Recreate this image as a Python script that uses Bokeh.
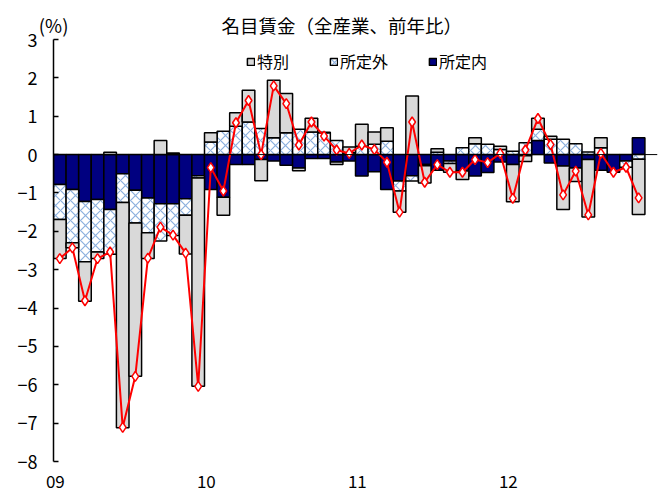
import numpy as np
from bokeh.plotting import figure
from bokeh.models import (FixedTicker, Span, Legend, LegendItem, LinearAxis,
                          ColumnDataSource, Range1d)
from bokeh.embed import file_html
from bokeh.resources import INLINE

# Monthly data, Jan 2009 .. Nov 2012 (year-on-year % change, contributions)
scheduled = [  # 所定内
    -0.78, -0.91, -1.22, -1.17, -1.43, -0.50, -0.93, -1.13, -1.28, -1.28, -1.15, -0.55,
    -0.91, -1.11, -0.26, -0.26, -0.13, -0.17, -0.28, -0.35, -0.10, -0.10, -0.19, -0.17,
    -0.56, -0.45, -0.91, -0.69, -0.55, -0.26, -0.41, -0.17, -0.43, -0.56, -0.47, -0.19,
    -0.26, -0.03, 0.37, -0.22, -0.30, -0.35, -0.13, -0.41, -0.46, -0.17, 0.44]
overtime = [  # 所定外
    -0.91, -1.39, -1.57, -1.37, -1.17, -0.75, -0.85, -0.91, -0.97, -0.83, -0.43, -0.06,
    0.33, 0.61, 0.74, 0.85, 0.68, 0.44, 0.57, 0.66, 0.59, 0.57, 0.37, 0.05,
    0.22, 0.27, 0.35, -0.26, -0.14, -0.03, 0.06, -0.06, 0.18, 0.28, 0.27, 0.13,
    0.09, 0.31, 0.29, 0.40, 0.40, 0.28, 0.07, 0.18, 0.00, -0.16, -0.12]
special = [  # 特別
    -1.02, -0.13, -1.03, -0.17, 0.06, -5.87, -4.00, -0.67, 0.37, 0.04, -1.01, -5.43,
    0.24, -0.47, 0.35, 0.83, -0.55, 1.50, 1.02, -0.07, 0.36, 0.01, -0.07, 0.15,
    0.57, 0.32, 0.35, -0.55, 1.53, -0.45, 0.09, -0.23, -0.22, 0.16, 0.00, 0.09,
    -0.97, -0.15, 0.29, 0.08, -1.13, -0.35, -1.50, 0.26, 0.00, 0.00, -1.44]
total = [  # 名目賃金
    -2.71, -2.43, -3.81, -2.71, -2.54, -7.11, -5.78, -2.70, -1.89, -2.10, -2.57, -6.04,
    -0.34, -0.95, 0.83, 1.41, 0.00, 1.79, 1.33, 0.25, 0.85, 0.48, 0.12, 0.03,
    0.25, 0.13, -0.20, -1.50, 0.85, -0.72, -0.26, -0.46, -0.46, -0.13, -0.21, 0.03,
    -1.14, 0.12, 0.94, 0.26, -1.05, -0.43, -1.57, 0.03, -0.46, -0.33, -1.13]
year_labels = ["09", "10", "11", "12"]
y_ticks = list(range(-8, 4))
n_categories = 48          # Jan 2009 .. Dec 2012 on the category axis
title_text = "名目賃金（全産業、前年比）"
unit_text = "(%)"

FONT = "Noto Sans CJK JP"
n = len(total)
xc = np.arange(n) + 0.5

# stacked positions (positives up from 0, negatives down from 0)
pos = np.zeros(n)
neg = np.zeros(n)
stacks = {}
for name, vals in [("scheduled", scheduled), ("overtime", overtime), ("special", special)]:
    v = np.array(vals)
    bottom = np.where(v >= 0, pos, neg)
    top = bottom + v
    pos = np.where(v >= 0, pos + v, pos)
    neg = np.where(v < 0, neg + v, neg)
    keep = v != 0
    stacks[name] = ColumnDataSource(dict(x=xc[keep], bottom=bottom[keep], top=top[keep]))

p = figure(width=662, height=494, x_range=Range1d(0, n_categories), y_range=Range1d(-8, 3),
           output_backend="svg", toolbar_location=None,
           min_border_left=53, min_border_right=5, min_border_top=39, min_border_bottom=33)
p.xgrid.visible = False
p.ygrid.visible = False
p.outline_line_color = None
p.background_fill_color = "white"
p.border_fill_color = "white"

r_sched = p.vbar(x="x", bottom="bottom", top="top", width=1.0, source=stacks["scheduled"],
                 fill_color="#000080", line_color="black", line_width=1.5)
r_over = p.vbar(x="x", bottom="bottom", top="top", width=1.0, source=stacks["overtime"],
                fill_color="white", line_color="black", line_width=1.5,
                hatch_pattern="diagonal_cross", hatch_color="#8CB0DE",
                hatch_scale=10, hatch_weight=1.2)
r_spec = p.vbar(x="x", bottom="bottom", top="top", width=1.0, source=stacks["special"],
                fill_color="#D9D9D9", line_color="black", line_width=1.5)

p.add_layout(Span(location=0, dimension="width", line_color="black", line_width=1))

p.line(xc, total, line_color="red", line_width=2)
p.scatter(xc, total, marker="diamond", size=10, fill_color="white",
          line_color="red", line_width=1.5)

# y axis
p.yaxis.ticker = FixedTicker(ticks=y_ticks)
p.yaxis.axis_line_color = "black"
p.yaxis.axis_line_width = 1.5
p.yaxis.major_tick_line_color = "black"
p.yaxis.major_tick_line_width = 1.5
p.yaxis.major_tick_in = 5
p.yaxis.major_tick_out = 0
p.yaxis.minor_tick_line_color = None
p.yaxis.major_label_standoff = 16
p.yaxis.major_label_text_font = FONT
p.yaxis.major_label_text_font_size = "18px"
p.yaxis.major_label_text_color = "black"

# x axis (year labels)
year_ticks = [12 * k + 0.15 for k in range(len(year_labels))]
p.xaxis.ticker = FixedTicker(ticks=year_ticks)
p.xaxis.major_label_overrides = {t: lab for t, lab in zip(year_ticks, year_labels)}
p.xaxis.axis_line_color = None
p.xaxis.major_tick_line_color = None
p.xaxis.minor_tick_line_color = None
p.xaxis.major_label_standoff = 7
p.xaxis.major_label_text_font = FONT
p.xaxis.major_label_text_font_size = "17px"
p.xaxis.major_label_text_color = "black"

# top strip: unit and chart title
top_ticks = [0.01, 22.9]
top_axis = LinearAxis(ticker=FixedTicker(ticks=top_ticks),
                      major_label_overrides={top_ticks[0]: unit_text, top_ticks[1]: title_text},
                      axis_line_color=None, major_tick_line_color=None,
                      minor_tick_line_color=None, major_label_standoff=2,
                      major_tick_in=0, major_tick_out=0,
                      major_label_text_font=FONT, major_label_text_font_size="18.5px",
                      major_label_text_color="black")
p.add_layout(top_axis, "above")

legend = Legend(items=[LegendItem(label="特別", renderers=[r_spec]),
                       LegendItem(label="所定外", renderers=[r_over]),
                       LegendItem(label="所定内", renderers=[r_sched])],
                orientation="horizontal", location=(193, 388),
                glyph_width=9, glyph_height=9, label_standoff=2, spacing=40,
                padding=0, margin=0, border_line_color=None, background_fill_alpha=0,
                label_text_font=FONT, label_text_font_size="16px",
                label_text_color="black")
p.add_layout(legend)

open("out.html", "w").write(file_html(p, INLINE))
